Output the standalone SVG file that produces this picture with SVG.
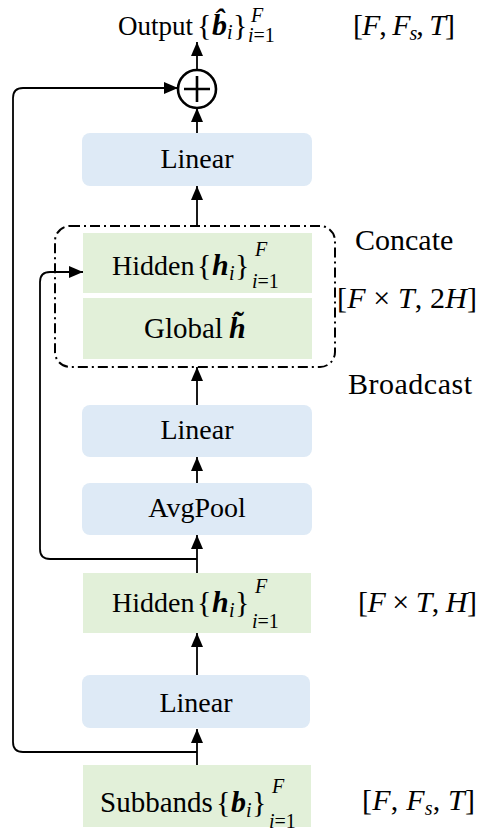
<svg xmlns="http://www.w3.org/2000/svg" width="482" height="831" viewBox="0 0 482 831">
<style>
.t{font-family:"Liberation Serif","Times New Roman",serif;font-size:30px;fill:#000}
.w{font-size:28px}
.it{font-style:italic}
.bi{font-style:italic;font-weight:bold}
.sc{font-size:20px}
.blue{fill:#deeaf6}
.green{fill:#e2f0d9}
.ln{fill:none;stroke:#000;stroke-width:1.8}
</style>
<defs>
<marker id="ah" viewBox="0 0 14 12" markerUnits="userSpaceOnUse" markerWidth="14" markerHeight="12" refX="14" refY="6" orient="auto">
<path d="M0,0 L14,6 L0,12 z" fill="#000"/>
</marker>
</defs>
<rect width="482" height="831" fill="#fff"/>

<g id="connectors">
<path class="ln" d="M197,765 V729" marker-end="url(#ah)"/>
<path class="ln" d="M197,675 V633" marker-end="url(#ah)"/>
<path class="ln" d="M197,573 V535" marker-end="url(#ah)"/>
<path class="ln" d="M197,483 V457" marker-end="url(#ah)"/>
<path class="ln" d="M197,405 V367" marker-end="url(#ah)"/>
<path class="ln" d="M197,226 V186" marker-end="url(#ah)"/>
<path class="ln" d="M197,133 V108" marker-end="url(#ah)"/>
<path class="ln" d="M197,70 V42" marker-end="url(#ah)"/>
<path class="ln" d="M197,752 H23 Q13,752 13,742 V98 Q13,88 23,88 H178" marker-end="url(#ah)"/>
<path class="ln" d="M197,559 H50 Q40,559 40,549 V282 Q40,272 50,272 H83" marker-end="url(#ah)"/>
</g>

<g id="output">
<text class="t" x="118" y="35"><tspan style="font-size:27px">Output</tspan><tspan x="197">{</tspan><tspan class="bi" x="212">b̂</tspan><tspan class="it sc" x="227" y="39">i</tspan><tspan x="233" y="35">}</tspan><tspan class="it sc" x="251" y="22">F</tspan><tspan class="sc" x="248" y="42"><tspan class="it">i</tspan>=1</tspan></text>
</g>

<g id="shape-top">
<text class="t" x="353" y="35" textLength="102" lengthAdjust="spacing">[<tspan class="it">F</tspan>, <tspan class="it">F</tspan><tspan class="it sc" dy="5">s</tspan><tspan dy="-5">, </tspan><tspan class="it">T</tspan>]</text>
</g>

<g id="add">
<circle cx="197" cy="89" r="19" fill="#fff" stroke="#000" stroke-width="2.6"/>
<path d="M184,89 H210 M197,76 V102" stroke="#000" stroke-width="2.6" fill="none"/>
</g>

<g id="linear1">
<rect class="blue" x="82" y="133" width="230" height="53" rx="8"/>
<text class="t w" x="197" y="168" text-anchor="middle">Linear</text>
</g>

<g id="concat">
<rect x="55" y="226" width="280" height="141" rx="15" fill="none" stroke="#000" stroke-width="2" stroke-dasharray="10,4,2,4"/>
</g>

<g id="hidden1">
<rect class="green" x="83" y="233" width="229" height="60"/>
<text class="t" x="112" y="275"><tspan class="w">Hidden</tspan><tspan x="197">{</tspan><tspan class="bi" x="212">h</tspan><tspan class="it sc" x="229" y="280">i</tspan><tspan x="235" y="275">}</tspan><tspan class="it sc" x="255" y="256">F</tspan><tspan class="sc" x="252" y="288"><tspan class="it">i</tspan>=1</tspan></text>
</g>

<g id="global">
<rect class="green" x="83" y="298" width="229" height="61"/>
<text class="t" x="144" y="338"><tspan style="font-size:29px">Global</tspan><tspan class="bi" x="229">h̃</tspan></text>
</g>

<g id="labels-right">
<text class="t" x="355" y="250">Concate</text>
<text class="t" x="337" y="308" textLength="140" lengthAdjust="spacing">[<tspan class="it">F</tspan> × <tspan class="it">T</tspan>, 2<tspan class="it">H</tspan>]</text>
<text class="t" x="348" y="394" textLength="124" lengthAdjust="spacing">Broadcast</text>
</g>

<g id="linear2">
<rect class="blue" x="82" y="405" width="230" height="52" rx="8"/>
<text class="t w" x="197" y="439" text-anchor="middle">Linear</text>
</g>

<g id="avgpool">
<rect class="blue" x="82" y="483" width="230" height="52" rx="8"/>
<text class="t w" x="197" y="517" text-anchor="middle">AvgPool</text>
</g>

<g id="hidden2">
<rect class="green" x="83" y="573" width="228" height="60"/>
<text class="t" x="112" y="612"><tspan class="w">Hidden</tspan><tspan x="197">{</tspan><tspan class="bi" x="212">h</tspan><tspan class="it sc" x="229" y="617">i</tspan><tspan x="235" y="612">}</tspan><tspan class="it sc" x="255" y="593">F</tspan><tspan class="sc" x="252" y="628"><tspan class="it">i</tspan>=1</tspan></text>
<text class="t" x="358" y="612" textLength="119" lengthAdjust="spacing">[<tspan class="it">F</tspan> × <tspan class="it">T</tspan>, <tspan class="it">H</tspan>]</text>
</g>

<g id="linear3">
<rect class="blue" x="82" y="675" width="228" height="53" rx="8"/>
<text class="t w" x="196" y="712" text-anchor="middle">Linear</text>
</g>

<g id="subbands">
<rect class="green" x="83" y="765" width="228" height="62"/>
<text class="t" x="100" y="812"><tspan style="font-size:29px">Subbands</tspan><tspan x="216">{</tspan><tspan class="bi" x="231">b</tspan><tspan class="it sc" x="246" y="817">i</tspan><tspan x="252" y="812">}</tspan><tspan class="it sc" x="272" y="793">F</tspan><tspan class="sc" x="269" y="828"><tspan class="it">i</tspan>=1</tspan></text>
<text class="t" x="362" y="810" textLength="113" lengthAdjust="spacing">[<tspan class="it">F</tspan>, <tspan class="it">F</tspan><tspan class="it sc" dy="5">s</tspan><tspan dy="-5">, </tspan><tspan class="it">T</tspan>]</text>
</g>
</svg>
